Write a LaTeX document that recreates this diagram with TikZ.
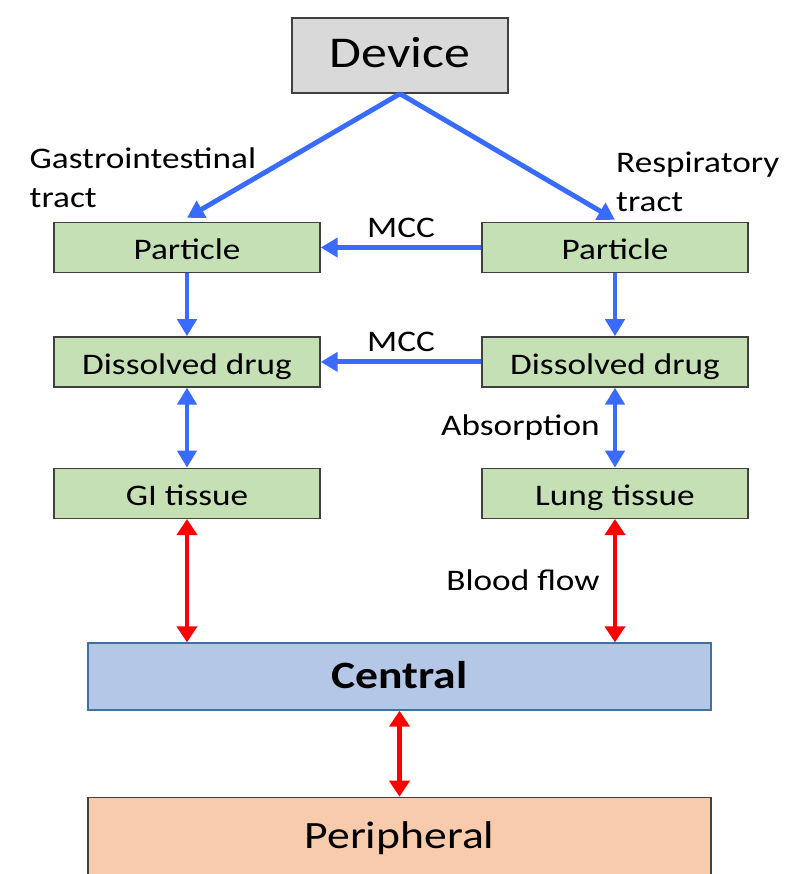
\documentclass[tikz,border=0pt]{standalone}
\usepackage{fontspec}
\setmainfont[FakeStretch=1.18]{Carlito}
\usepackage{tikz}
\usetikzlibrary{arrows.meta, positioning}
\definecolor{devgray}{HTML}{D9D9D9}
\definecolor{boxgreen}{HTML}{C5E0B4}
\definecolor{cenblue}{HTML}{B4C7E7}
\definecolor{cenedge}{HTML}{41719C}
\definecolor{perorange}{HTML}{F8CBAD}
\definecolor{arrblue}{HTML}{3A6BFF}
\definecolor{edgegray}{HTML}{404040}

\begin{document}
\begin{tikzpicture}[
                font=\fontsize{17}{22}\selectfont,
                box/.style={draw=edgegray, line width=0.8pt, fill=boxgreen, minimum width=5.32cm, minimum height=1.0cm, inner sep=0pt, text height=1.6em, text depth=0.2em},
                devbox/.style={box, fill=devgray, minimum width=4.32cm, minimum height=1.5cm, font=\fontsize{25}{30}\selectfont},
                cenbox/.style={box, draw=cenedge, fill=cenblue, minimum width=12.46cm, minimum height=1.34cm, font=\fontsize{22}{26}\selectfont\bfseries},
                perbox/.style={box, fill=perorange, minimum width=12.46cm, minimum height=1.54cm, font=\fontsize{22}{26}\selectfont},
                lbl/.style={text=black},
                barrow/.style={arrblue, line width=2.8pt, -{Triangle[length=0.34cm, width=0.38cm]}},
                bboth/.style={barrow, {Triangle[length=0.34cm, width=0.38cm]}-{Triangle[length=0.34cm, width=0.38cm]}},
                rboth/.style={red, line width=2.8pt, {Triangle[length=0.32cm, width=0.4cm]}-{Triangle[length=0.32cm, width=0.4cm]}}
            ]
                \useasboundingbox (0,0) rectangle (15.7,-17.48);

                \node[devbox] (device) at (8.0,-1.11) {Device};
                \node[box] (gipart) at (3.74,-4.95) {Particle};
                \node[box] (rtpart) at (12.3,-4.95) {Particle};
                \node[box, below=1.26cm of gipart] (gidiss) {Dissolved drug};
                \node[box, below=1.26cm of rtpart] (rtdiss) {Dissolved drug};
                \node[box, below=1.6cm of gidiss] (gitis) {GI tissue};
                \node[box, below=1.6cm of rtdiss] (lungtis) {Lung tissue};
                \node[cenbox] (central) at (7.99,-13.53) {Central};
                \node[perbox, below=1.72cm of central] (periph) {Peripheral};

                \node[anchor=west, align=left] (gitract) at (0.47,-3.56) {Gastrointestinal\\tract};
                \node[anchor=west, align=left] (rttract) at (12.2,-3.64) {Respiratory\\tract};

                % routes from the device
                \draw[barrow] (device.south) -- ([yshift=0.08cm]gipart.north);
                \draw[barrow] (device.south) -- ([yshift=0.04cm]rtpart.north);

                % mucociliary clearance
                \draw[barrow] (rtpart.west) -- node[lbl, above=1pt] (mcctop) {MCC} (gipart.east);
                \draw[barrow] (rtdiss.west) -- node[lbl, above=1pt] (mccbot) {MCC} (gidiss.east);

                \draw[barrow] (gipart) -- (gidiss);
                \draw[barrow] (rtpart) -- (rtdiss);
                \draw[bboth] (gidiss) -- (gitis);
                \draw[bboth] (rtdiss) -- node[lbl, left=4pt] (absorb) {Absorption} (lungtis);

                % blood flow
                \draw[rboth] (gitis.south) -- (gitis.south |- central.north);
                \draw[rboth] (lungtis.south) -- node[lbl, left=4pt] (blood) {Blood flow} (lungtis.south |- central.north);
                \draw[rboth] (central) -- (periph);
            \end{tikzpicture}
\end{document}
